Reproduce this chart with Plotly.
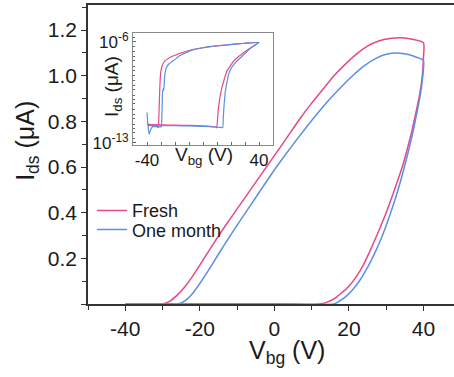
import plotly.graph_objects as go

# ---------------- main panel data (linear, µA) ----------------
# forward sweep (-40 -> 40) followed by reverse sweep (40 -> -40)
fresh_v = [-40, -34, -30, -28, -26, -24, -22, -20, -18, -15, -12, -9, -6, -3, 0, 3, 7, 10,
           13, 16, 19, 22, 25, 28, 31, 34, 37, 40,
           40, 39.7, 39.0, 38, 37, 36, 34.5, 32, 30, 28, 26, 24, 22, 20, 18, 16, 14, 12, 0, -20, -40]
fresh_i = [0, 0, 0, 0.013, 0.04, 0.076, 0.12, 0.17, 0.222, 0.298, 0.37, 0.44, 0.51, 0.58, 0.65, 0.72, 0.815, 0.88,
           0.94, 1.0, 1.05, 1.095, 1.13, 1.152, 1.163, 1.166, 1.16, 1.145,
           1.08, 1.0, 0.92, 0.84, 0.765, 0.70, 0.61, 0.49, 0.40, 0.32, 0.245, 0.175, 0.12, 0.078, 0.048, 0.022, 0.007, 0, 0, 0, 0]

month_v = [-40, -30, -26, -24, -22, -20, -18, -15, -12, -9, -6, -3, 0, 3, 6, 9,
           12, 15, 18, 21, 24, 27, 30, 33, 36, 38, 40,
           40, 39.7, 39.2, 38.4, 37.4, 36.2, 34.8, 33, 31, 29, 27, 25, 23, 21, 19, 17, 16, 0, -20, -40]
month_i = [0, 0, 0, 0.014, 0.045, 0.09, 0.14, 0.218, 0.295, 0.37, 0.442, 0.515, 0.587, 0.655, 0.72, 0.783,
           0.843, 0.9, 0.952, 1.0, 1.042, 1.074, 1.094, 1.1, 1.093, 1.082, 1.068,
           1.03, 0.98, 0.92, 0.85, 0.77, 0.685, 0.595, 0.49, 0.39, 0.30, 0.225, 0.16, 0.105, 0.062, 0.03, 0.008, 0, 0, 0, 0]

# ---------------- inset data (log10 of Ids) ----------------
fresh_log_v = [-40, -36, -33, -32.3, -31.8, -31.3, -30.8, -30.2, -29, -27, -24, -20, -16, -10, -4.5, 5, 19, 30, 40,
               36, 32, 28.8, 25, 21.7, 17, 13.4, 11, 9.8, 9, 5, -5, -15, -25, -32, -40]
fresh_log_i = [-11.72, -11.75, -11.78, -11.95, -11.8, -10.5, -9.0, -8.1, -7.6, -7.3, -7.1, -6.93, -6.78, -6.6, -6.48, -6.33, -6.2, -6.1, -6.05,
               -6.3, -6.55, -6.78, -7.05, -7.35, -8.04, -9.2, -10.57, -11.95, -11.9, -11.85, -11.8, -11.78, -11.76, -11.75, -11.72]

month_log_v = [-40, -39.5, -38.5, -37.5, -36, -33, -30, -29.5, -29.2, -28.9, -28.4, -28.0, -27.7, -27.2, -26, -24, -21, -16.4, -10, -4.5, 5, 19, 30, 40,
               36, 32, 28, 24, 21, 19, 17.5, 16, 15.1, 14.5, 14.1, 12, 5, -5, -15, -25, -35, -39.5]
month_log_i = [-10.9, -11.6, -12.4, -12.1, -11.88, -11.88, -11.9, -11.5, -10.5, -9.5, -9.25, -9.35, -8.9, -8.2, -7.75, -7.5, -7.3, -6.95, -6.66, -6.5, -6.33, -6.2, -6.1, -6.05,
               -6.3, -6.62, -7.0, -7.35, -7.7, -8.05, -8.6, -9.4, -10.3, -11.2, -11.95, -11.92, -11.88, -11.84, -11.82, -11.8, -11.8, -11.8]

series_names = ["Fresh", "One month"]
colors = ["#e6478a", "#5b8fe3"]

main_x_ticks = [-40, -20, 0, 20, 40]
main_x_ticktext = ["-40", "-20", "0", "20", "40"]
main_y_ticks = [0, 0.2, 0.4, 0.6, 0.8, 1.0, 1.2]
main_y_ticktext = ["", "0.2", "0.4", "0.6", "0.8", "1.0", "1.2"]
inset_x_ticks = [-40, 40]
inset_x_ticktext = ["-40", "40"]
inset_y_ticks = [1e-6, 1e-13]
inset_y_ticktext = ["10<sup>-6</sup>", "10<sup>-13</sup>"]

FONT = "Liberation Sans, Arial, sans-serif"
INK = "#1a1a1a"

fig = go.Figure()
fig.add_trace(go.Scatter(x=fresh_v, y=fresh_i, mode="lines", name=series_names[0],
                         line=dict(color=colors[0], width=1.5, shape="spline", smoothing=0.6),
                         legend="legend"))
fig.add_trace(go.Scatter(x=month_v, y=month_i, mode="lines", name=series_names[1],
                         line=dict(color=colors[1], width=1.5, shape="spline", smoothing=0.6),
                         legend="legend2"))
fig.add_trace(go.Scatter(x=fresh_log_v, y=[10 ** e for e in fresh_log_i], mode="lines",
                         line=dict(color=colors[0], width=1.2, shape="spline", smoothing=0.3),
                         showlegend=False, xaxis="x2", yaxis="y2"))
fig.add_trace(go.Scatter(x=month_log_v, y=[10 ** e for e in month_log_i], mode="lines",
                         line=dict(color=colors[1], width=1.2, shape="spline", smoothing=0.3),
                         showlegend=False, xaxis="x2", yaxis="y2"))

fig.update_layout(
    width=454, height=377,
    margin=dict(l=88, r=0, t=5, b=73),
    paper_bgcolor="white", plot_bgcolor="white",
    font=dict(family=FONT, color=INK),
    xaxis=dict(range=[-50, 48.2], showgrid=False, zeroline=False,
               showline=True, linecolor="#333", linewidth=1.5, mirror=True,
               tickmode="array", tickvals=main_x_ticks, ticktext=main_x_ticktext,
               ticks="outside", ticklen=5,
               tickwidth=1.2, tickcolor="#333", tickfont=dict(size=21, family=FONT, color=INK),
               minor=dict(dtick=10, tick0=0, ticks="outside", ticklen=4, tickcolor="#333", tickwidth=1.2)),
    yaxis=dict(range=[0, 1.31], showgrid=False, zeroline=False,
               showline=True, linecolor="#333", linewidth=1.5,
               tickmode="array", tickvals=main_y_ticks, ticktext=main_y_ticktext,
               ticks="outside", ticklen=5, tickwidth=1.2, tickcolor="#333",
               tickfont=dict(size=21, family=FONT, color=INK),
               minor=dict(dtick=0.1, tick0=0, ticks="outside", ticklen=4, tickcolor="#333", tickwidth=1.2)),
    xaxis2=dict(domain=[0.123, 0.5055], anchor="y2", range=[-50, 50], showgrid=False, zeroline=False,
                showline=True, linecolor="#888", linewidth=1, mirror=True,
                tickmode="array", tickvals=inset_x_ticks, ticktext=inset_x_ticktext,
                ticks="inside", ticklen=3, tickcolor="#666",
                tickfont=dict(size=17, family=FONT, color=INK),
                minor=dict(dtick=10, tick0=0, ticks="inside", ticklen=3, tickcolor="#666")),
    yaxis2=dict(domain=[0.532, 0.905], anchor="x2", type="log", range=[-13.14, -5.42],
                showgrid=False, zeroline=False, showline=True, linecolor="#888", linewidth=1, mirror=True,
                tickmode="array", tickvals=inset_y_ticks, ticktext=inset_y_ticktext,
                ticks="inside", ticklen=3, tickcolor="#666",
                tickfont=dict(size=17, family=FONT, color=INK),
                minor=dict(dtick="D2", ticks="inside", ticklen=2, tickcolor="#666")),
    legend=dict(x=0.011, y=0.312, xanchor="left", yanchor="middle", bgcolor="rgba(0,0,0,0)",
                font=dict(size=18, family=FONT, color=INK)),
    legend2=dict(x=0.011, y=0.248, xanchor="left", yanchor="middle", bgcolor="rgba(0,0,0,0)",
                 font=dict(size=18, family=FONT, color=INK)),
    annotations=[
        dict(text="V<sub>bg</sub> (V)", xref="paper", yref="paper", x=0.5437, y=-0.159,
             xanchor="center", yanchor="middle",
             showarrow=False, font=dict(size=25, family=FONT, color=INK)),
        dict(text="I<sub>ds</sub> (μA)", xref="paper", yref="paper", x=-0.1667, y=0.5456,
             xanchor="center", yanchor="middle",
             textangle=-90, showarrow=False, font=dict(size=25, family=FONT, color=INK)),
        dict(text="V<sub>bg</sub> (V)", xref="paper", yref="paper", x=0.317, y=0.4955,
             xanchor="center", yanchor="middle",
             showarrow=False, font=dict(size=19, family=FONT, color=INK)),
        dict(text="I<sub>ds</sub> (μA)", xref="paper", yref="paper", x=0.0683, y=0.729,
             xanchor="center", yanchor="middle",
             textangle=-90, showarrow=False, font=dict(size=19, family=FONT, color=INK)),
    ],
)

fig.write_html("out.html")
